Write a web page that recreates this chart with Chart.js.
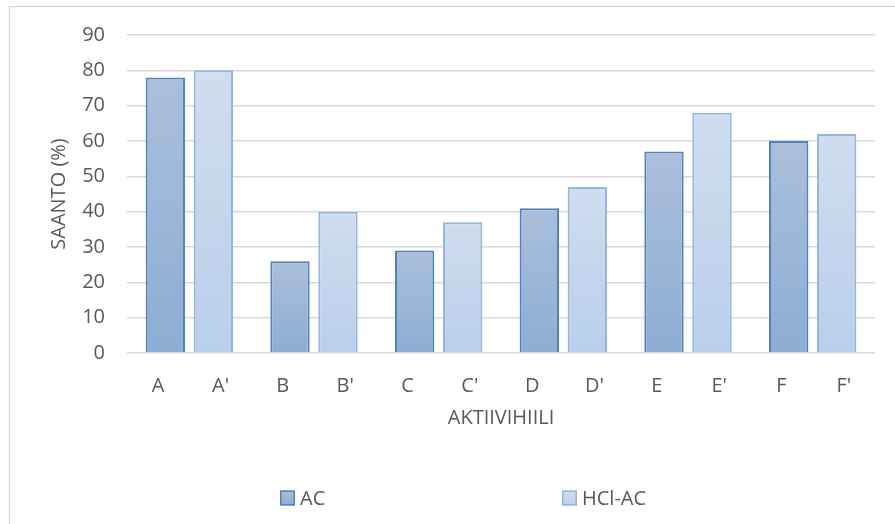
<!DOCTYPE html>
<html>
<head>
<meta charset="utf-8">
<script src="https://cdn.jsdelivr.net/npm/chart.js@4/dist/chart.umd.min.js"></script>
<style>
  html, body { margin: 0; padding: 0; background: #ffffff; }
  #wrap { position: relative; width: 895px; height: 524px; }
</style>
</head>
<body>
<div id="wrap"><canvas id="chart" width="895" height="524"></canvas></div>
<script>
// Activated-carbon samples: each sample has an untreated (AC) and acid-washed (HCl-AC) bar
const groups = ['A', 'B', 'C', 'D', 'E', 'F'];
const tickLabels = ['A', "A'", 'B', "B'", 'C', "C'", 'D', "D'", 'E', "E'", 'F', "F'"];
const seriesNames = ['AC', 'HCl-AC'];
const acValues = [78, 26, 29, 41, 57, 60];
const hclValues = [80, 40, 37, 47, 68, 62];
const yAxisRange = [0, 90, 10]; // min, max, step

const TEXT = '#595959';
const GRID = '#d9d9d9';
const FONT = "'Open Sans', 'Noto Sans', sans-serif";
const FONT_SIZE = 20;

const palette = [
  { top: '#aabfdb', bottom: '#8dadd4', border: '#5083bd' },
  { top: '#d0ddef', bottom: '#b9cfea', border: '#94b5e0' }
];

// Vertical gradient running from each bar's top down to the zero line
function barFill(p) {
  return (ctx) => {
    const chart = ctx.chart;
    if (!chart.chartArea || ctx.type !== 'data') return p.bottom;
    const y = chart.scales.y;
    const yTop = y.getPixelForValue(ctx.raw);
    const yBase = y.getPixelForValue(0);
    const g = chart.ctx.createLinearGradient(0, yTop, 0, yBase);
    g.addColorStop(0, p.top);
    g.addColorStop(1, p.bottom);
    return g;
  };
}

// Light outer frame of the chart
const framePlugin = {
  id: 'frame',
  beforeDraw(chart) {
    const c = chart.ctx;
    c.save();
    c.strokeStyle = GRID;
    c.lineWidth = 1.3;
    c.strokeRect(9.5, 6.5, chart.width + 20, chart.height + 20);
    c.restore();
  }
};

// Legend laid out in fixed-width slots below the axis title
const slotLegend = {
  id: 'slotLegend',
  afterDraw(chart, args, opts) {
    const c = chart.ctx;
    c.save();
    c.font = opts.fontSize + 'px ' + FONT;
    c.textBaseline = 'middle';
    chart.data.datasets.forEach((ds, i) => {
      const p = palette[i];
      const x = opts.left + i * opts.slot;
      const y = opts.y;
      const s = opts.box;
      const g = c.createLinearGradient(0, y - s / 2, 0, y + s / 2);
      g.addColorStop(0, p.top);
      g.addColorStop(1, p.bottom);
      c.fillStyle = g;
      c.fillRect(x, y - s / 2, s, s);
      c.strokeStyle = p.border;
      c.lineWidth = 1.5;
      c.strokeRect(x + 0.75, y - s / 2 + 0.75, s - 1.5, s - 1.5);
      c.fillStyle = TEXT;
      c.fillText(ds.label, x + s + 5, y + 1);
    });
    c.restore();
  }
};

new Chart(document.getElementById('chart'), {
  type: 'bar',
  data: {
    labels: groups,
    datasets: [
      {
        label: seriesNames[0],
        data: acValues,
        backgroundColor: barFill(palette[0]),
        borderColor: palette[0].border,
        borderWidth: 2,
        categoryPercentage: 0.77,
        barPercentage: 0.82
      },
      {
        label: seriesNames[1],
        data: hclValues,
        backgroundColor: barFill(palette[1]),
        borderColor: palette[1].border,
        borderWidth: 2,
        categoryPercentage: 0.77,
        barPercentage: 0.82
      }
    ]
  },
  options: {
    responsive: false,
    animation: false,
    layout: { padding: { top: 35, right: 20, bottom: 94, left: 0 } },
    plugins: {
      legend: { display: false },
      tooltip: { enabled: false },
      slotLegend: { left: 280, slot: 282, y: 498, box: 15, fontSize: FONT_SIZE }
    },
    scales: {
      x: {
        display: false,
        offset: true
      },
      x2: {
        type: 'category',
        labels: tickLabels,
        position: 'bottom',
        offset: true,
        grid: { display: false, drawTicks: false },
        border: { display: false },
        ticks: { color: TEXT, font: { family: FONT, size: FONT_SIZE }, padding: 21, maxRotation: 0, autoSkip: false },
        title: {
          display: true,
          text: 'AKTIIVIHIILI',
          color: TEXT,
          font: { family: FONT, size: FONT_SIZE },
          padding: { top: 0, bottom: 0 }
        },
        afterFit(scale) { scale.height = 77; }
      },
      y: {
        min: yAxisRange[0],
        max: yAxisRange[1],
        ticks: { stepSize: yAxisRange[2], color: TEXT, font: { family: FONT, size: FONT_SIZE }, padding: 22 },
        grid: { color: GRID, lineWidth: 1.5, drawTicks: false },
        border: { display: false },
        title: {
          display: true,
          text: 'SAANTO (%)',
          color: TEXT,
          font: { family: FONT, size: FONT_SIZE },
          padding: { top: 47, bottom: 0 }
        },
        afterFit(scale) { scale.width = 127; }
      }
    }
  },
  plugins: [framePlugin, slotLegend]
});
</script>
</body>
</html>
